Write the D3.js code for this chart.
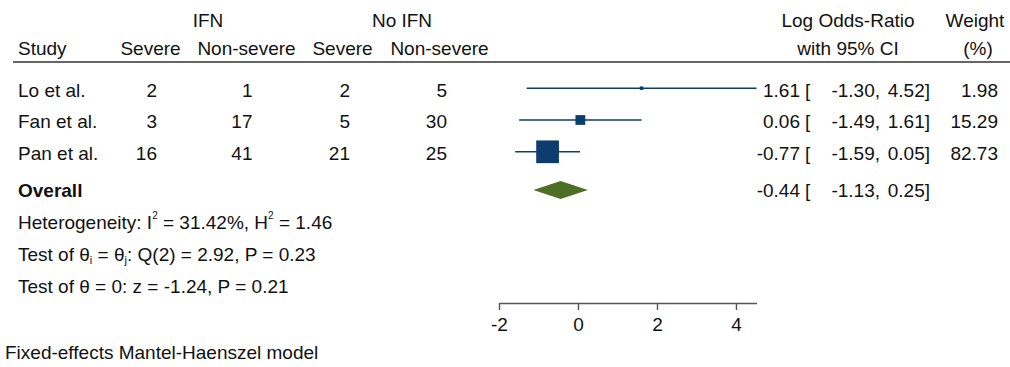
<!DOCTYPE html>
<html><head><meta charset="utf-8">
<script src="https://cdn.jsdelivr.net/npm/d3@7/dist/d3.min.js"></script>
<style>
html,body{margin:0;padding:0;background:#fff;}
svg text{font-family:"Liberation Sans",Arial,sans-serif;font-size:19px;fill:#111;}
</style></head><body>
<script>
const studies = ["Lo et al.", "Fan et al.", "Pan et al."];
const ifnSevere = [2, 3, 16];
const ifnNonSevere = [1, 17, 41];
const noIfnSevere = [2, 5, 21];
const noIfnNonSevere = [5, 30, 25];
const logOR = [1.61, 0.06, -0.77];
const ciLow = [-1.30, -1.49, -1.59];
const ciHigh = [4.52, 1.61, 0.05];
const weights = [1.98, 15.29, 82.73];
const overall = {es: -0.44, lo: -1.13, hi: 0.25};
const xTicks = [-2, 0, 2, 4];

const W = 1010, H = 367;
const svg = d3.select("body").append("svg").attr("width", W).attr("height", H);

const x = d3.scaleLinear().domain([-2, 4.52]).range([499, 756.5]);
const baseY = i => i < 3 ? 96.6 + i * 31.8 : 196.6;
const navy = "#0d3d6c";
const green = "#4f6e25";
const f2 = v => v.toFixed(2);

// Headers
const hdr = svg.append("g");
hdr.append("text").attr("x", 208).attr("y", 26.6).attr("text-anchor", "middle").text("IFN");
hdr.append("text").attr("x", 402).attr("y", 26.6).attr("text-anchor", "middle").text("No IFN");
hdr.append("text").attr("x", 18).attr("y", 54.5).text("Study");
[["Severe", 150.5], ["Non-severe", 246.5], ["Severe", 342.5], ["Non-severe", 439.5]].forEach(([t, cx]) =>
  hdr.append("text").attr("x", cx).attr("y", 54.5).attr("text-anchor", "middle").text(t));
hdr.append("text").attr("x", 848).attr("y", 26.6).attr("text-anchor", "middle").text("Log Odds-Ratio");
hdr.append("text").attr("x", 848).attr("y", 54.5).attr("text-anchor", "middle").text("with 95% CI");
hdr.append("text").attr("x", 975).attr("y", 26.6).attr("text-anchor", "middle").text("Weight");
hdr.append("text").attr("x", 978).attr("y", 54.5).attr("text-anchor", "middle").text("(%)");

svg.append("line").attr("x1", 13).attr("x2", W).attr("y1", 62).attr("y2", 62)
  .attr("stroke", "#333").attr("stroke-width", 1.6);

function esCols(y, es, lo, hi) {
  svg.append("text").attr("x", 800).attr("y", y).attr("text-anchor", "end").text(f2(es));
  svg.append("text").attr("x", 805).attr("y", y).text("[");
  svg.append("text").attr("x", 880).attr("y", y).attr("text-anchor", "end").text(f2(lo) + ",");
  svg.append("text").attr("x", 930).attr("y", y).attr("text-anchor", "end").text(f2(hi) + "]");
}

// Study rows
studies.forEach((s, i) => {
  const y = baseY(i);
  svg.append("text").attr("x", 18).attr("y", y).text(s);
  [[ifnSevere[i], 157], [ifnNonSevere[i], 252.5], [noIfnSevere[i], 350], [noIfnNonSevere[i], 447]].forEach(([v, rx]) =>
    svg.append("text").attr("x", rx).attr("y", y).attr("text-anchor", "end").text(v));
  esCols(y, logOR[i], ciLow[i], ciHigh[i]);
  svg.append("text").attr("x", 998).attr("y", y).attr("text-anchor", "end").text(f2(weights[i]));

  const my = y - 8.4;
  svg.append("line").attr("x1", x(ciLow[i])).attr("x2", x(ciHigh[i])).attr("y1", my).attr("y2", my)
    .attr("stroke", navy).attr("stroke-width", 1.4);
  const sz = 2.5 * Math.sqrt(weights[i]);
  svg.append("rect").attr("x", x(logOR[i]) - sz / 2).attr("y", my - sz / 2).attr("width", sz).attr("height", sz)
    .attr("fill", navy);
});

// Overall
const oy = baseY(3);
svg.append("text").attr("x", 18).attr("y", oy).attr("font-weight", "bold").text("Overall");
esCols(oy, overall.es, overall.lo, overall.hi);
const dy = oy - 6.6;
svg.append("path").attr("d", `M${x(overall.lo)},${dy} L${x(overall.es)},${dy - 9} L${x(overall.hi)},${dy} L${x(overall.es)},${dy + 9} Z`)
  .attr("fill", green);

// Stats text
const t1 = svg.append("text").attr("x", 18).attr("y", 228.6);
t1.append("tspan").text("Heterogeneity: I");
t1.append("tspan").attr("dy", -10).attr("font-size", "10px").text("2");
t1.append("tspan").attr("dy", 10).text(" = 31.42%, H");
t1.append("tspan").attr("dy", -10).attr("font-size", "10px").text("2");
t1.append("tspan").attr("dy", 10).text(" = 1.46");

const t2 = svg.append("text").attr("x", 18).attr("y", 260.6);
t2.append("tspan").text("Test of θ");
t2.append("tspan").attr("dy", 3).attr("font-size", "11px").text("i");
t2.append("tspan").attr("dy", -3).text(" = θ");
t2.append("tspan").attr("dy", 3).attr("font-size", "11px").text("j");
t2.append("tspan").attr("dy", -3).text(": Q(2) = 2.92, P = 0.23");

svg.append("text").attr("x", 18).attr("y", 292.6).text("Test of θ = 0: z = -1.24, P = 0.21");
svg.append("text").attr("x", 5).attr("y", 358.6).text("Fixed-effects Mantel-Haenszel model");

// Axis
const ax = svg.append("g").attr("transform", "translate(0,303)")
  .call(d3.axisBottom(x).tickValues(xTicks).tickFormat(d => String(d)).tickSize(7).tickSizeOuter(0).tickPadding(8));
ax.attr("font-size", null).attr("font-family", null);
ax.select(".domain").attr("stroke", "#555").attr("stroke-width", 1.6);
ax.selectAll(".tick line").attr("stroke", "#555").attr("stroke-width", 1.4);
ax.selectAll(".tick text").attr("fill", "#111");
</script>
</body></html>
